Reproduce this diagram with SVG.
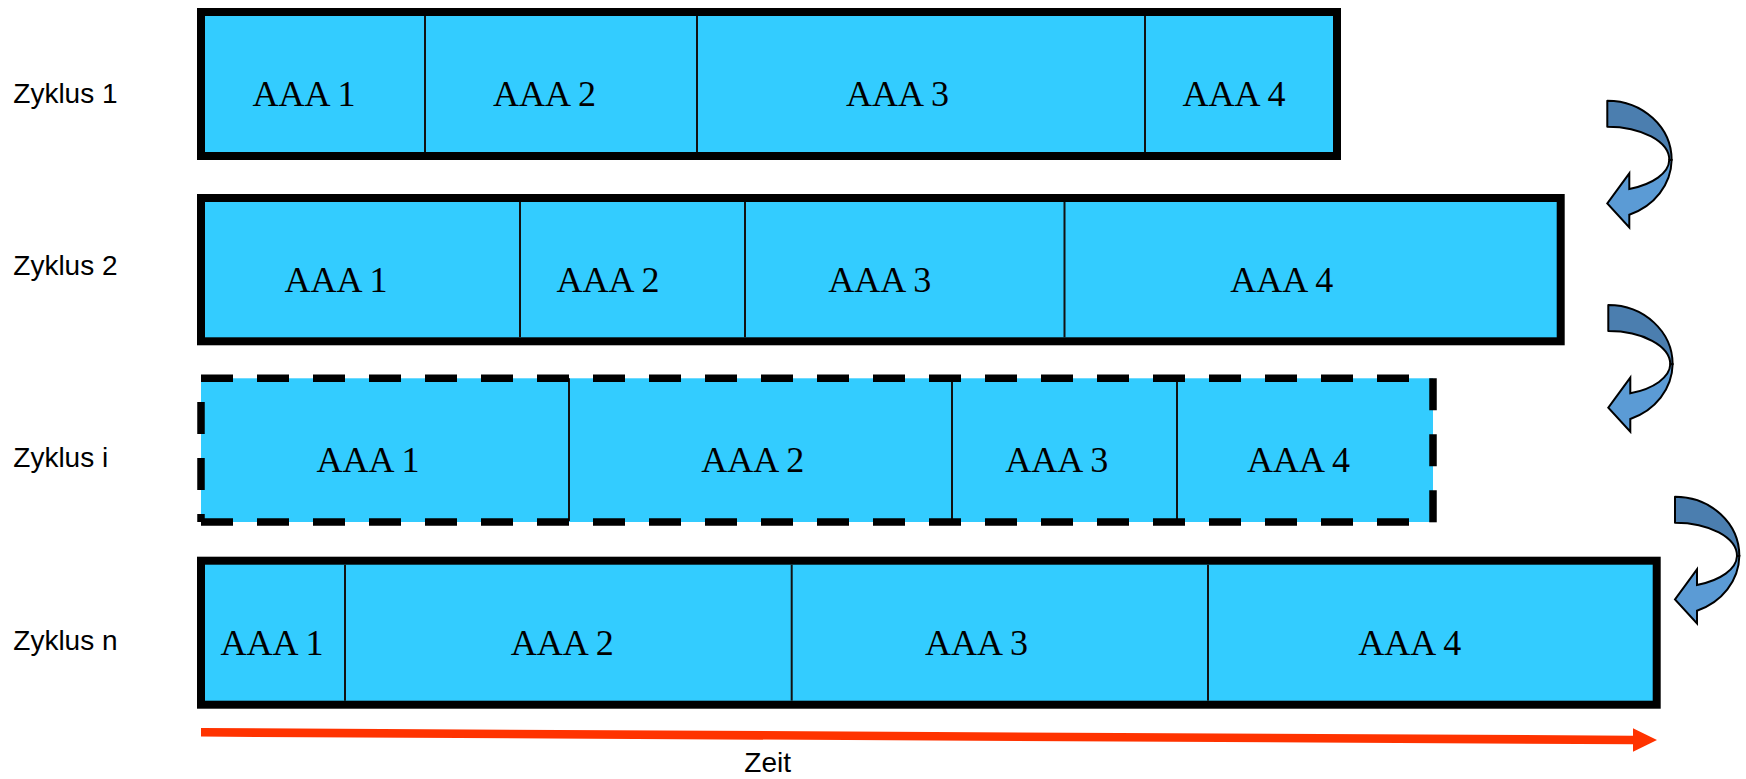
<svg xmlns="http://www.w3.org/2000/svg" xmlns:xlink="http://www.w3.org/1999/xlink" width="1746" height="779" viewBox="0 0 1746 779">
<style>
.box{fill:#33CCFF;stroke:#000;stroke-width:8}
.fill{fill:#33CCFF;stroke:none}
.div{stroke:#111;stroke-width:2}
.dash{stroke:#000;stroke-width:7.5;stroke-dasharray:32 24;fill:none}
.cell{font-family:"Liberation Serif","Times New Roman",serif;font-size:36px;fill:#000;text-anchor:middle}
.lbl{font-family:"Liberation Sans",Arial,sans-serif;font-size:28px;fill:#000}
.back{fill:#4B7EAF;stroke:#000;stroke-width:6;stroke-linejoin:round}
.front{fill:#5B9BD5;stroke:#000;stroke-width:6;stroke-linejoin:miter}
</style>
<defs>
<g id="curvedArrow">
<path class="back" d="M0,0 A193,178 0 0 1 193,178 L186,178 A186,100 0 0 0 0,78 Z"/>
<path class="front" d="M193,178 A193,178 0 0 1 66,342 L66,380 L0,308 L66,218 L66,265 A186,95 0 0 0 186,178 Z"/>
</g>
</defs>
<rect width="1746" height="779" fill="#fff"/>

<g id="label-zyklus1"><text class="lbl" x="13.3" y="102.7">Zyklus 1</text></g>
<g id="label-zyklus2"><text class="lbl" x="13.3" y="275">Zyklus 2</text></g>
<g id="label-zyklusi"><text class="lbl" x="13.3" y="466.7">Zyklus i</text></g>
<g id="label-zyklusn"><text class="lbl" x="13.3" y="650">Zyklus n</text></g>

<g id="row1">
<rect class="box" x="201" y="12" width="1136" height="144"/>
<line class="div" x1="425" y1="16" x2="425" y2="152"/>
<line class="div" x1="697" y1="16" x2="697" y2="152"/>
<line class="div" x1="1145" y1="16" x2="1145" y2="152"/>
<text class="cell" x="304" y="106">AAA 1</text>
<text class="cell" x="544.5" y="106">AAA 2</text>
<text class="cell" x="897.5" y="106">AAA 3</text>
<text class="cell" x="1234" y="106">AAA 4</text>
</g>

<g id="row2">
<rect class="box" x="201" y="198" width="1359.7" height="143.3"/>
<line class="div" x1="520" y1="202" x2="520" y2="337.3"/>
<line class="div" x1="745" y1="202" x2="745" y2="337.3"/>
<line class="div" x1="1064.5" y1="202" x2="1064.5" y2="337.3"/>
<text class="cell" x="336" y="292">AAA 1</text>
<text class="cell" x="608" y="292">AAA 2</text>
<text class="cell" x="879.7" y="292">AAA 3</text>
<text class="cell" x="1281.7" y="292">AAA 4</text>
</g>

<g id="rowi">
<rect class="fill" x="201" y="378.3" width="1232" height="143.7"/>
<line class="div" x1="569" y1="378.3" x2="569" y2="521"/>
<line class="div" x1="952" y1="378.3" x2="952" y2="521"/>
<line class="div" x1="1177" y1="378.3" x2="1177" y2="521"/>
<line class="dash" x1="201" y1="378.3" x2="1433" y2="378.3"/>
<line class="dash" x1="1433" y1="378.3" x2="1433" y2="522.5"/>
<line class="dash" x1="201" y1="522" x2="1433" y2="522"/>
<line class="dash" x1="201" y1="522" x2="201" y2="378.3" stroke-dashoffset="24"/>
<text class="cell" x="368" y="471.7">AAA 1</text>
<text class="cell" x="752.7" y="471.7">AAA 2</text>
<text class="cell" x="1056.7" y="471.7">AAA 3</text>
<text class="cell" x="1298.4" y="471.7">AAA 4</text>
</g>

<g id="rown">
<rect class="box" x="201" y="560.7" width="1455.7" height="144"/>
<line class="div" x1="345" y1="564.7" x2="345" y2="700.7"/>
<line class="div" x1="791.7" y1="564.7" x2="791.7" y2="700.7"/>
<line class="div" x1="1208" y1="564.7" x2="1208" y2="700.7"/>
<text class="cell" x="272" y="655">AAA 1</text>
<text class="cell" x="562.3" y="655">AAA 2</text>
<text class="cell" x="976.5" y="655">AAA 3</text>
<text class="cell" x="1409.7" y="655">AAA 4</text>
</g>

<g id="connectors">
<use xlink:href="#curvedArrow" href="#curvedArrow" transform="translate(1607.3,100.7) scale(0.33333)"/>
<use xlink:href="#curvedArrow" href="#curvedArrow" transform="translate(1608.3,305) scale(0.33333)"/>
<use xlink:href="#curvedArrow" href="#curvedArrow" transform="translate(1675,496.7) scale(0.33333)"/>
<polygon id="time-arrow" fill="#FF3300" points="201,728 1633,735.7 1633,728.3 1657,740 1633,751.7 1633,744.3 201,736.6"/>
</g>

<g id="label-zeit"><text class="lbl" x="744.3" y="772">Zeit</text></g>
</svg>
